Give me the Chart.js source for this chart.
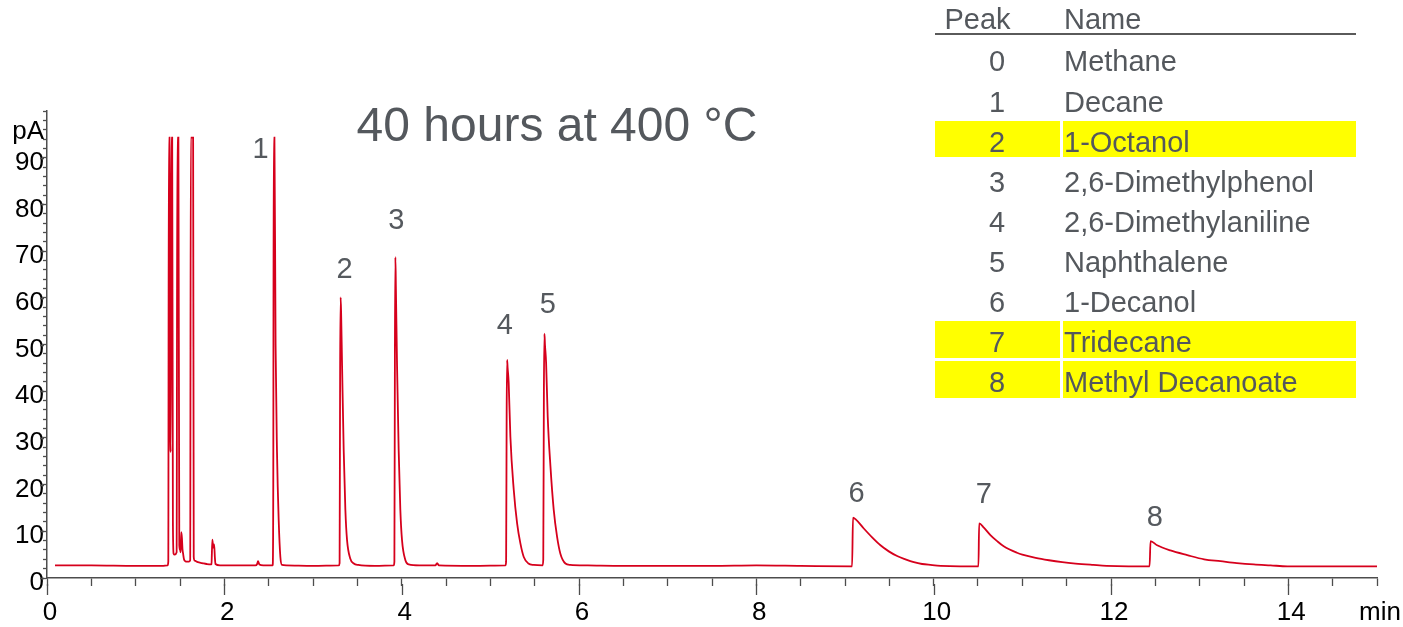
<!DOCTYPE html>
<html>
<head>
<meta charset="utf-8">
<script src="https://cdn.jsdelivr.net/npm/chart.js"></script>
<style>
  body { margin: 0; background: #fff; }
  #wrap { position: relative; width: 1403px; height: 627px; font-family: "Liberation Sans", Arial, sans-serif; }
  #myChart { position: absolute; left: 0; top: 0; }
  .t { position: absolute; color: #54585d; font-size: 29px; line-height: 29px; white-space: nowrap; }
  .hl { position: absolute; background: #ffff00; }
</style>
</head>
<body>
<div id="wrap">
  <canvas id="myChart" width="1403" height="627"></canvas>
  <div id="title" class="t" style="left:257px;top:101px;width:600px;text-align:center;font-size:48px;line-height:48px;">40 hours at 400 °C</div>
  <div id="legend"></div>
</div>
<script>
// chromatogram trace (time in min, signal in pA)
const minutes = [
  0.09, 0.5, 1.0, 1.3, 1.36,
  1.368, 1.374, 1.382, 1.39, 1.396, 1.402, 1.412, 1.42, 1.428, 1.44, 1.462,
  1.47, 1.482, 1.492, 1.5, 1.508, 1.515, 1.522, 1.528, 1.535, 1.545, 1.56, 1.58, 1.6, 1.615,
  1.622, 1.635, 1.648, 1.655, 1.665, 1.7, 1.75, 1.8, 1.845, 1.855, 1.865, 1.875, 1.885, 1.893, 1.9, 1.95,
  2.1, 2.35, 2.37, 2.38, 2.395, 2.44,
  2.545, 2.552, 2.557, 2.565, 2.578, 2.594, 2.613, 2.632, 2.65, 2.7, 3.0, 3.29,
  3.3, 3.306, 3.312, 3.318, 3.328, 3.346, 3.365, 3.384, 3.42, 3.46, 3.51, 3.7, 3.91,
  3.918, 3.924, 3.929, 3.935, 3.948, 3.966, 3.985, 4.004, 4.042, 4.08, 4.2, 4.38, 4.4, 4.42, 4.8, 5.17,
  5.178, 5.184, 5.189, 5.195, 5.207, 5.226, 5.264, 5.302, 5.339, 5.377, 5.43, 5.49, 5.59,
  5.597, 5.604, 5.61, 5.616, 5.629, 5.647, 5.678, 5.715, 5.753, 5.79, 5.847, 5.9, 6.1, 6.5, 7.0, 7.5, 8.0, 8.5, 9.08,
  9.09, 9.118, 9.212, 9.306, 9.4, 9.494, 9.588, 9.682, 9.776, 9.87, 9.964, 10.08, 10.3, 10.505,
  10.513, 10.566, 10.64, 10.716, 10.79, 10.94, 11.0, 11.15, 11.3, 11.45, 11.6, 11.8, 11.95, 12.2, 12.435,
  12.446, 12.52, 12.67, 12.86, 13.05, 13.235, 13.42, 13.61, 13.8, 13.99, 14.3, 14.6, 15.0
];
const signal = [
  2.7, 2.7, 2.6, 2.6, 2.7,
  3.5, 94.3, 94.3, 30, 27, 94.3, 94.3, 12, 5.2, 5.0, 5.5,
  94.3, 94.3, 7, 6.0, 5.5, 9.8, 8.5, 6.2, 5.2, 4.0, 3.6, 3.5, 3.5, 3.8,
  94.3, 94.3, 94.3, 4.5, 3.7, 3.4, 3.2, 3.0, 2.9, 3.0, 8.2, 6.5, 7.2, 4.5, 3.0, 2.7,
  2.7, 2.7, 3.0, 3.6, 2.9, 2.7,
  2.7, 20, 94.3, 94.3, 50, 27, 12.4, 4.5, 2.8, 2.7, 2.6, 2.7,
  3.2, 45, 60.1, 56, 45.4, 27.5, 14.6, 8.1, 4.2, 3.1, 2.8, 2.6, 2.7,
  3.5, 50, 68.7, 62, 45.4, 27.5, 14.6, 8.1, 3.8, 2.9, 2.7, 2.7, 3.2, 2.7, 2.6, 2.7,
  3.5, 35, 46.7, 45, 41.8, 30.3, 18.9, 11.7, 7.4, 4.5, 3.1, 2.8, 2.7,
  4, 40, 52.3, 50, 46.1, 34.6, 23.9, 14.6, 8.8, 5.2, 3.1, 2.8, 2.7, 2.6, 2.6, 2.6, 2.7, 2.6, 2.5,
  12.9, 12.6, 10.6, 8.7, 7.0, 5.7, 4.7, 4.0, 3.4, 3.0, 2.8, 2.6, 2.5, 2.5,
  11.7, 10.8, 9.2, 7.9, 6.8, 5.4, 5.0, 4.3, 3.8, 3.4, 3.1, 2.8, 2.6, 2.5, 2.5,
  7.9, 7.0, 5.9, 4.9, 4.0, 3.6, 3.2, 2.9, 2.7, 2.5, 2.5, 2.5, 2.5
];

// peak numbers and where they sit (min, pA)
const peakLabels = ["1", "2", "3", "4", "5", "6", "7", "8"];
const peakLabelTime = [2.408, 3.357, 3.94, 5.162, 5.647, 9.13, 10.565, 12.494];
const peakLabelLevel = [91.6, 66.0, 76.5, 54.0, 58.4, 17.9, 17.8, 12.8];

// peak table
const peakNumbers = ["0", "1", "2", "3", "4", "5", "6", "7", "8"];
const peakNames = ["Methane", "Decane", "1-Octanol", "2,6-Dimethylphenol", "2,6-Dimethylaniline",
  "Naphthalene", "1-Decanol", "Tridecane", "Methyl Decanoate"];
const highlighted = ["2", "7", "8"];

const xTicksMajor = [0, 2, 4, 6, 8, 10, 12, 14];
const yTicksMajor = [0, 10, 20, 30, 40, 50, 60, 70, 80, 90];

// legend table as html
const legend = document.getElementById("legend");
let html = '<div class="t" style="left:940px;top:5px;width:75px;text-align:center;">Peak</div>' +
  '<div class="t" style="left:1064px;top:5px;">Name</div>' +
  '<div style="position:absolute;left:935px;top:33px;width:421px;height:2px;background:#5a5a5a;"></div>';
peakNumbers.forEach((n, i) => {
  const base = 71.9 + 40.1 * i;
  if (highlighted.includes(n)) {
    html += `<div class="hl" style="left:935px;top:${base - 31.6}px;width:125px;height:36.5px;"></div>`;
    html += `<div class="hl" style="left:1063px;top:${base - 31.6}px;width:293px;height:36.5px;"></div>`;
  }
  html += `<div class="t" style="left:960px;top:${base - 24.5}px;width:74px;text-align:center;">${n}</div>`;
  html += `<div class="t" style="left:1064px;top:${base - 24.5}px;">${peakNames[i]}</div>`;
});
legend.innerHTML = html;

const extras = {
  id: "extras",
  afterDraw(chart) {
    const { ctx, chartArea, scales } = chart;
    const x = scales.x, y = scales.y;
    ctx.save();
    ctx.strokeStyle = "#4d4d4d";
    ctx.lineWidth = 1.3;
    ctx.beginPath();
    xTicksMajor.forEach((v) => {
      const px = Math.round(x.getPixelForValue(v)) + 0.5;
      ctx.moveTo(px, chartArea.bottom + 6);
      ctx.lineTo(px, chartArea.bottom + 17);
    });
    yTicksMajor.forEach((v) => {
      const py = Math.round(y.getPixelForValue(v)) + 0.5;
      ctx.moveTo(chartArea.left - 3, py);
      ctx.lineTo(chartArea.left - 7, py);
    });
    ctx.stroke();

    ctx.fillStyle = "#000";
    ctx.font = '26px "Liberation Sans", Arial, sans-serif';
    ctx.textAlign = "right";
    ctx.textBaseline = "middle";
    ctx.fillText("pA", chartArea.left - 3, y.getPixelForValue(95.5));

    ctx.fillStyle = "#55595e";
    ctx.font = '29px "Liberation Sans", Arial, sans-serif';
    ctx.textAlign = "center";
    peakLabels.forEach((t, i) => {
      ctx.fillText(t, x.getPixelForValue(peakLabelTime[i]), y.getPixelForValue(peakLabelLevel[i]));
    });
    ctx.restore();
  },
};

const tickFont = { family: '"Liberation Sans", Arial, sans-serif', size: 26 };

new Chart(document.getElementById("myChart"), {
  type: "line",
  data: {
    datasets: [
      {
        data: minutes.map((m, i) => ({ x: m, y: signal[i] })),
        borderColor: "#d6001c",
        borderWidth: 1.8,
        pointRadius: 0,
        cubicInterpolationMode: "monotone",
      },
    ],
  },
  options: {
    responsive: false,
    animation: false,
    layout: { padding: { top: 111, right: 26, left: 0, bottom: 0 } },
    plugins: { legend: { display: false }, tooltip: { enabled: false } },
    scales: {
      x: {
        type: "linear",
        min: 0,
        max: 15,
        afterFit: (s) => {
          s.height = 49;
          s.paddingLeft = 0;
          s.paddingRight = 0;
        },
        border: { color: "#4d4d4d", width: 1.5 },
        grid: { drawOnChartArea: false, tickLength: 8, color: "#4d4d4d", tickWidth: 1.3 },
        ticks: {
          stepSize: 0.5,
          autoSkip: false,
          maxRotation: 0,
          padding: 11,
          labelOffset: 3,
          color: "#000",
          font: tickFont,
          callback: (v) => (v === 15 ? "min" : v % 2 === 0 ? String(v) : ""),
        },
      },
      y: {
        min: 0,
        max: 100,
        afterFit: (s) => {
          s.width = 47;
          s.paddingTop = 0;
          s.paddingBottom = 0;
        },
        border: { color: "#4d4d4d", width: 1.5 },
        grid: { drawOnChartArea: false, tickLength: 4, color: "#4d4d4d", tickWidth: 1.3 },
        ticks: {
          stepSize: 2,
          autoSkip: false,
          padding: -1,
          labelOffset: 5,
          color: "#000",
          font: tickFont,
          callback: (v) => (v % 10 === 0 && v < 100 ? String(v) : ""),
        },
      },
    },
  },
  plugins: [extras],
});
</script>
</body>
</html>
